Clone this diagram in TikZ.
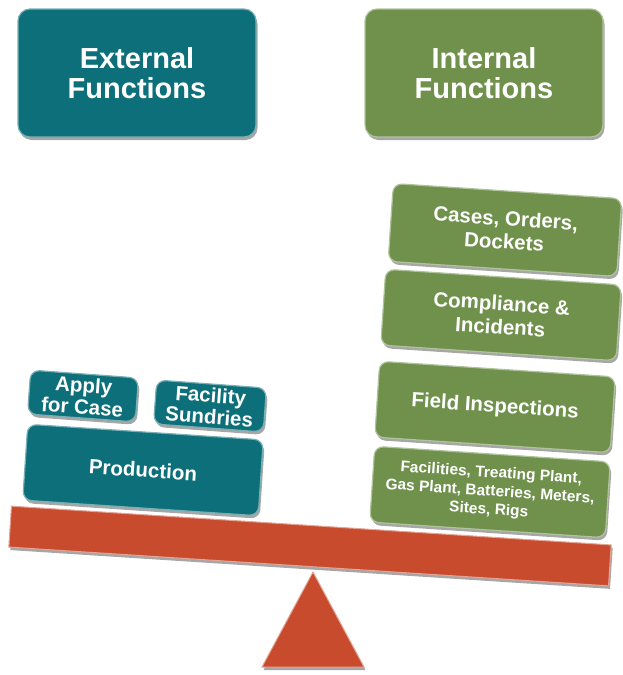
\documentclass[tikz,border=0pt]{standalone}
\usepackage{fontspec}
\setmainfont{Liberation Sans}
\usetikzlibrary{shadows}
\definecolor{tealbox}{HTML}{0C6F79}
\definecolor{greenbox}{HTML}{6F914C}
\definecolor{beamred}{HTML}{C84B2D}
\begin{document}
\begin{tikzpicture}[x=1pt, y=-1pt,
  box/.style={rectangle, rounded corners=9pt, text=white, align=center, inner sep=0pt,
    font=\bfseries\fontsize{20.5}{23.5}\selectfont, line width=1.2pt,
    drop shadow={shadow xshift=1.5pt, shadow yshift=-3pt, opacity=.35, fill=black}},
  ext/.style={box, fill=tealbox, draw=tealbox!55!white},
  int/.style={box, fill=greenbox, draw=greenbox!55!white},
  head/.style={minimum width=238pt, minimum height=128pt, rounded corners=12pt,
    font=\bfseries\fontsize{29}{30}\selectfont}]
\useasboundingbox (0,0) rectangle (623,675);
\node[ext, head] (ext0) at (137,73){External\\Functions};
\node[int, head] (int0) at (484,73){Internal\\Functions};
\fill[beamred, draw=beamred!50!white, line width=1pt,
  drop shadow={shadow xshift=1.5pt, shadow yshift=-3pt, opacity=.35, fill=black}]
  (313,572) -- (364,667) -- (262,667) -- cycle;
\node[rectangle, fill=beamred, draw=beamred!50!white, line width=1pt, rotate=-3.7,
  minimum width=601pt, minimum height=41pt, inner sep=0pt,
  drop shadow={shadow xshift=1.5pt, shadow yshift=-3pt, opacity=.35, fill=black}] (beam) at (310,546){};
\node[ext, rotate=-3.8, minimum width=236pt, minimum height=76pt] (prod) at (143,470){Production};
\node[ext, rotate=-4.2, minimum width=108pt, minimum height=44pt, font=\bfseries\fontsize{20.5}{21.5}\selectfont] (apply) at (83,396){Apply\\for Case};
\node[ext, rotate=-4.2, minimum width=110pt, minimum height=44pt, font=\bfseries\fontsize{20.5}{21.5}\selectfont] (sundry) at (210,406){Facility\\Sundries};
\node[int, rotate=-3.8, minimum width=236pt, minimum height=76pt, font=\bfseries\fontsize{15.5}{18.5}\selectfont] (facil) at (490,492)
  {Facilities, Treating Plant,\\Gas Plant, Batteries, Meters,\\Sites, Rigs};
\node[int, rotate=-3.8, minimum width=236pt, minimum height=76pt] (field) at (495,407){Field Inspections};
\node[int, rotate=-3.8, minimum width=236pt, minimum height=76pt] (compl) at (501,315){Compliance \&\\Incidents};
\node[int, rotate=-3.8, minimum width=229pt, minimum height=78pt] (cases) at (505,230){Cases, Orders,\\Dockets};
\end{tikzpicture}
\end{document}
